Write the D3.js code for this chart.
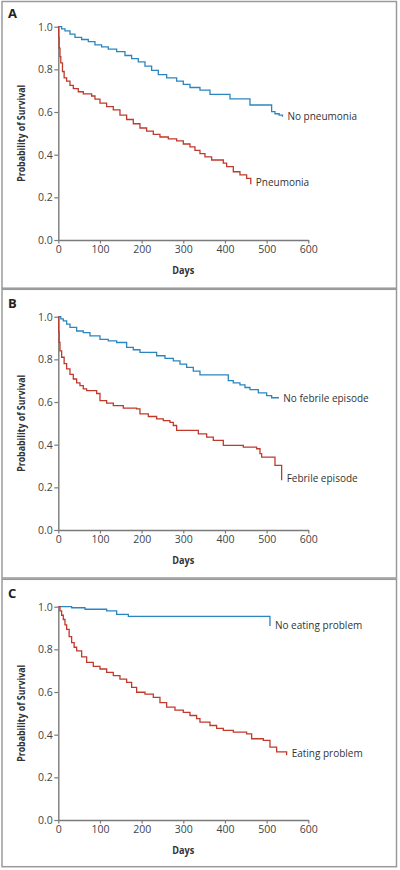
<!DOCTYPE html>
<html>
<head>
<meta charset="utf-8">
<script src="https://cdn.jsdelivr.net/npm/d3@7"></script>
<style>
  html, body { margin: 0; padding: 0; background: #fff; }
  svg { display: block; }
  text { font-family: "Open Sans", "Noto Sans", sans-serif; fill: #333; }
</style>
</head>
<body>
<svg id="chart" width="400" height="870"></svg>
<script>
// ---- Data ----
const panelLabels = ["A", "B", "C"];
const xTicks = [0, 100, 200, 300, 400, 500, 600];
const yTicks = [0.0, 0.2, 0.4, 0.6, 0.8, 1.0];
const xAxisTitle = "Days";
const yAxisTitle = "Probability of Survival";

const seriesNamesA = ["No pneumonia", "Pneumonia"];
const seriesNamesB = ["No febrile episode", "Febrile episode"];
const seriesNamesC = ["No eating problem", "Eating problem"];

// [days, survival probability]
const noPneumonia = [[0,1.0],[8,0.99],[16,0.98],[28,0.965],[40,0.95],[56,0.94],[72,0.93],[88,0.915],[104,0.905],[120,0.895],[140,0.883],[160,0.865],[176,0.85],[192,0.835],[208,0.815],[224,0.795],[240,0.775],[260,0.76],[284,0.745],[300,0.73],[316,0.715],[340,0.703],[364,0.683],[412,0.662],[460,0.633],[512,0.602],[520,0.592],[530,0.585],[538,0.578]];
const pneumonia = [[0,1.0],[1,0.95],[2,0.90],[4,0.86],[6,0.83],[10,0.79],[14,0.76],[20,0.745],[28,0.725],[36,0.71],[48,0.695],[60,0.685],[80,0.675],[88,0.66],[100,0.642],[116,0.625],[132,0.61],[148,0.585],[164,0.565],[180,0.545],[196,0.525],[212,0.51],[228,0.495],[244,0.483],[264,0.474],[284,0.465],[300,0.45],[316,0.437],[328,0.42],[340,0.405],[352,0.39],[368,0.375],[396,0.36],[404,0.344],[420,0.32],[436,0.305],[452,0.289],[462,0.261]];

const noFebrile = [[0,1.0],[6,0.99],[12,0.98],[20,0.965],[28,0.95],[44,0.933],[60,0.925],[76,0.91],[100,0.894],[120,0.887],[140,0.879],[164,0.856],[180,0.845],[196,0.833],[236,0.817],[256,0.805],[276,0.793],[292,0.778],[308,0.762],[324,0.745],[340,0.727],[408,0.70],[420,0.69],[436,0.68],[448,0.668],[460,0.658],[480,0.643],[500,0.63],[512,0.62],[528,0.617]];
const febrile = [[0,1.0],[1,0.93],[2,0.88],[4,0.84],[8,0.81],[14,0.78],[20,0.755],[28,0.73],[36,0.708],[44,0.69],[52,0.677],[60,0.662],[68,0.653],[92,0.64],[100,0.607],[116,0.595],[132,0.583],[156,0.571],[188,0.568],[196,0.544],[216,0.532],[236,0.521],[252,0.513],[268,0.505],[276,0.49],[284,0.467],[336,0.451],[356,0.435],[372,0.42],[396,0.397],[444,0.389],[476,0.381],[484,0.358],[488,0.342],[520,0.303],[536,0.233]];

const noEating = [[0,1.0],[32,0.995],[64,0.988],[116,0.98],[140,0.964],[168,0.955],[508,0.91]];
const eating = [[0,1.0],[4,0.98],[8,0.96],[12,0.94],[16,0.915],[20,0.894],[26,0.86],[32,0.832],[38,0.81],[44,0.793],[56,0.765],[68,0.739],[84,0.72],[100,0.708],[116,0.692],[132,0.677],[148,0.66],[164,0.645],[176,0.622],[188,0.599],[208,0.59],[228,0.575],[244,0.55],[260,0.529],[280,0.515],[300,0.505],[316,0.49],[332,0.475],[340,0.459],[364,0.443],[380,0.43],[396,0.42],[420,0.412],[452,0.404],[464,0.381],[492,0.373],[508,0.342],[524,0.319],[548,0.303]];

const panels = [
  { label: panelLabels[0], blue: noPneumonia, red: pneumonia, names: seriesNamesA },
  { label: panelLabels[1], blue: noFebrile, red: febrile, names: seriesNamesB },
  { label: panelLabels[2], blue: noEating, red: eating, names: seriesNamesC }
];

// ---- Layout ----
const blueColor = "#2a86c0";
const redColor = "#c0392b";
const axisColor = "#7a7a7a";
const borderColor = "#9a9a9a";
const panelOffsets = [0, 290, 580];
const panelTops = [1.5, 289.3, 579.3];
const panelBottoms = [288.2, 578, 866.7];

const svg = d3.select("#chart");

const x = d3.scaleLinear().domain([0, 600]).range([58.3, 308.3]);

panels.forEach((p, i) => {
  const oy = panelOffsets[i];
  const g = svg.append("g");
  const y = d3.scaleLinear().domain([0, 1]).range([oy + 240, oy + 26.7]);

  // border
  g.append("rect")
    .attr("x", 2).attr("y", panelTops[i])
    .attr("width", 394.5).attr("height", panelBottoms[i] - panelTops[i])
    .attr("fill", "none").attr("stroke", borderColor).attr("stroke-width", 1.5);

  // panel letter
  g.append("text")
    .attr("x", 8).attr("y", oy + 17.5)
    .attr("font-size", 13).attr("font-weight", "bold")
    .style("fill", "#222")
    .text(p.label);

  // axes
  const yAxis = d3.axisLeft(y).tickValues(yTicks).tickFormat(d3.format(".1f")).tickSize(4).tickSizeOuter(0).tickPadding(1.5);
  const xAxis = d3.axisBottom(x).tickValues(xTicks).tickFormat(d3.format("d")).tickSize(3.5).tickSizeOuter(0).tickPadding(2.5);

  const ya = g.append("g").attr("transform", `translate(${x(0)},0)`).call(yAxis);
  const xa = g.append("g").attr("transform", `translate(0,${y(0)})`).call(xAxis);
  [ya, xa].forEach(a => {
    a.select(".domain").attr("stroke", axisColor).attr("stroke-width", 1.4);
    a.selectAll(".tick line").attr("stroke", axisColor).attr("stroke-width", 1.2);
    a.selectAll(".tick text").attr("font-size", 10.5).attr("font-family", "'Open Sans', sans-serif").style("fill", "#444");
  });

  // axis titles
  g.append("text")
    .attr("x", x(300)).attr("y", oy + 273.5)
    .attr("text-anchor", "middle")
    .attr("font-size", 10).attr("font-weight", "bold")
    .attr("textLength", 22).attr("lengthAdjust", "spacingAndGlyphs")
    .text(xAxisTitle);

  g.append("text")
    .attr("transform", `translate(24.5,${(y(0) + y(1)) / 2}) rotate(-90)`)
    .attr("text-anchor", "middle")
    .attr("font-size", 10).attr("font-weight", "bold")
    .attr("textLength", 97).attr("lengthAdjust", "spacingAndGlyphs")
    .text(yAxisTitle);

  // curves
  const line = d3.line().x(d => x(d[0])).y(d => y(d[1])).curve(d3.curveStepAfter);
  g.append("path").datum(p.blue).attr("d", line)
    .attr("fill", "none").attr("stroke", blueColor).attr("stroke-width", 1.3);
  g.append("path").datum(p.red).attr("d", line)
    .attr("fill", "none").attr("stroke", redColor).attr("stroke-width", 1.3);

  // series labels
  const lastB = p.blue[p.blue.length - 1];
  const lastR = p.red[p.red.length - 1];
  g.append("text")
    .attr("x", x(lastB[0]) + 5).attr("y", y(lastB[1]) + 3.5)
    .attr("font-size", 10).style("fill", "#333")
    .text(p.names[0]);
  g.append("text")
    .attr("x", x(lastR[0]) + 5).attr("y", y(lastR[1]) + 1.5)
    .attr("font-size", 10).style("fill", "#333")
    .text(p.names[1]);
});
</script>
</body>
</html>
